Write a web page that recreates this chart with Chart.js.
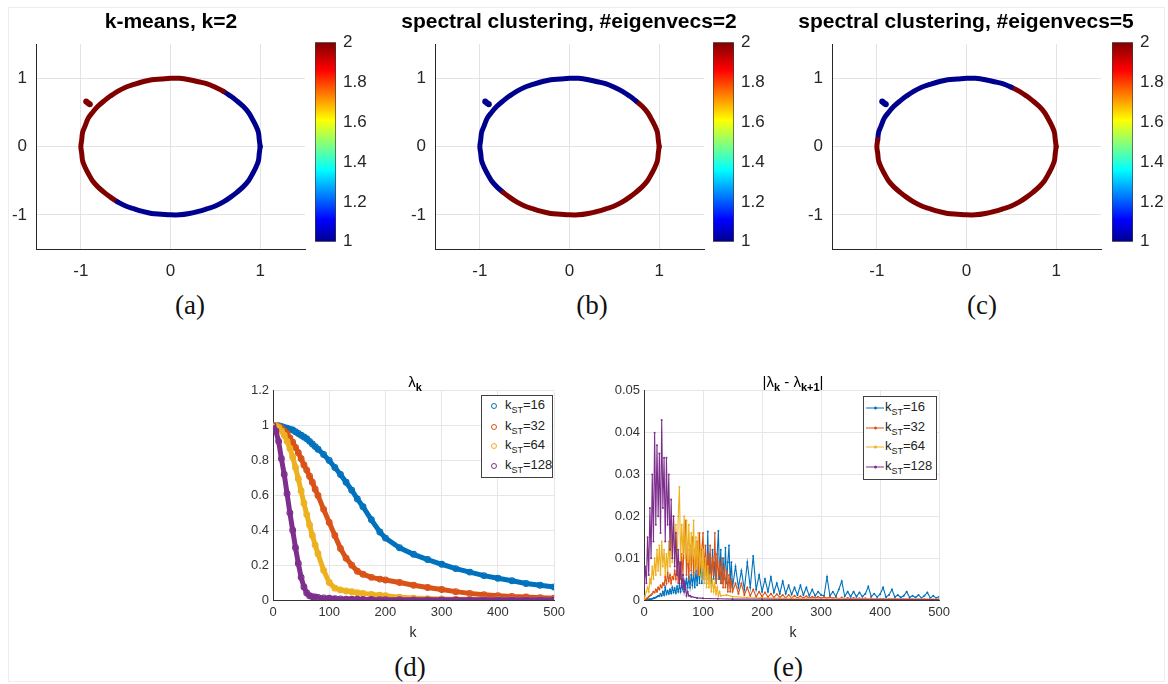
<!DOCTYPE html>
<html>
<head>
<meta charset="utf-8">
<script src="https://cdn.jsdelivr.net/npm/chart.js@4.4.1/dist/chart.umd.min.js"></script>
<style>
  body { margin: 0; background: #fff; width: 1168px; height: 684px; position: relative; overflow: hidden;
         font-family: "Liberation Sans", Arial, sans-serif; }
  canvas { position: absolute; }
  .frame { position: absolute; left: 8px; top: 7px; width: 1155px; height: 673px; border: 1px solid #f2ebec; }
  .c { position: absolute; transform: translate(-50%, -50%); white-space: nowrap; }
  .ttl { font-weight: bold; font-size: 21px; color: #000; }
  .sub-ttl { font-size: 15px; color: #000; }
  .sub-ttl sub { font-size: 11px; font-weight: bold; }
  .xl { font-size: 14px; color: #262626; }
  .pl { font-family: "Liberation Serif", "Times New Roman", serif; font-size: 27px; color: #111; }
  .leg { position: absolute; background: #fff; border: 1px solid #404040; box-sizing: border-box; }
  .row { position: absolute; font-size: 13px; color: #222; white-space: nowrap; transform: translateY(-50%); }
  .row sub { font-size: 9px; }
  .mk { position: absolute; transform: translate(-50%, -50%); }
</style>
</head>
<body>
<div class="frame"></div>

<canvas id="ringA" width="319" height="264" style="left:-4px;top:25px"></canvas>
<canvas id="barA" width="61" height="234" style="left:315px;top:25px"></canvas>
<canvas id="ringB" width="319" height="264" style="left:395px;top:25px"></canvas>
<canvas id="barB" width="61" height="234" style="left:713px;top:25px"></canvas>
<canvas id="ringC" width="319" height="264" style="left:792px;top:25px"></canvas>
<canvas id="barC" width="56" height="234" style="left:1112px;top:25px"></canvas>
<canvas id="lamChart" width="337" height="251" style="left:233px;top:379px"></canvas>
<canvas id="gapChart" width="355" height="251" style="left:600px;top:379px"></canvas>

<div class="c ttl" style="left:171px;top:21px">k-means, k=2</div>
<div class="c ttl" style="left:569px;top:21px">spectral clustering, #eigenvecs=2</div>
<div class="c ttl" style="left:966px;top:21px">spectral clustering, #eigenvecs=5</div>
<div class="c sub-ttl" style="left:415px;top:383px">λ<sub>k</sub></div>
<div class="c sub-ttl" style="left:793px;top:383px">|λ<sub>k</sub> - λ<sub>k+1</sub>|</div>
<div class="c xl" style="left:413px;top:632px">k</div>
<div class="c xl" style="left:793px;top:632px">k</div>
<div class="c pl" style="left:190px;top:305px">(a)</div>
<div class="c pl" style="left:592px;top:305px">(b)</div>
<div class="c pl" style="left:982px;top:305px">(c)</div>
<div class="c pl" style="left:410px;top:667px">(d)</div>
<div class="c pl" style="left:788px;top:667px">(e)</div>

<script>
const SANS = '"Liberation Sans", Arial, sans-serif';
Chart.defaults.font.family = SANS;

// ring of points, one every 6 degrees, closed back on the first point
const ringX = [1.00, 0.99, 0.98, 0.95, 0.91, 0.87, 0.81, 0.74, 0.67, 0.59,
  0.50, 0.41, 0.31, 0.21, 0.10, 0.00, -0.10, -0.21, -0.31, -0.41,
  -0.50, -0.59, -0.67, -0.74, -0.81, -0.87, -0.92, -0.95, -0.98, -0.99,
  -1.00, -0.99, -0.98, -0.95, -0.91, -0.87, -0.81, -0.74, -0.67, -0.59,
  -0.50, -0.41, -0.31, -0.21, -0.10, 0.00, 0.10, 0.21, 0.31, 0.41,
  0.50, 0.59, 0.67, 0.74, 0.81, 0.87, 0.91, 0.95, 0.98, 0.99, 1.00];
const ringY = [0.00, 0.10, 0.21, 0.31, 0.41, 0.50, 0.59, 0.67, 0.74, 0.81,
  0.87, 0.92, 0.95, 0.98, 1.00, 1.00, 0.99, 0.98, 0.95, 0.91,
  0.87, 0.81, 0.74, 0.67, 0.59, 0.50, 0.41, 0.31, 0.21, 0.10,
  0.00, -0.10, -0.21, -0.31, -0.41, -0.50, -0.59, -0.67, -0.74, -0.81,
  -0.87, -0.91, -0.95, -0.98, -0.99, -1.00, -1.00, -0.98, -0.95, -0.91,
  -0.87, -0.81, -0.74, -0.67, -0.59, -0.50, -0.41, -0.31, -0.21, -0.10, 0.00];

// cluster label of every ring point
const clusterA = [1, 1, 1, 1, 1, 1, 1, 1, 1, 2,
  2, 2, 2, 2, 2, 2, 2, 2, 2, 2,
  2, 2, 2, 2, 2, 2, 2, 2, 2, 2,
  2, 2, 2, 2, 2, 2, 2, 2, 2, 1,
  1, 1, 1, 1, 1, 1, 1, 1, 1, 1,
  1, 1, 1, 1, 1, 1, 1, 1, 1, 1, 1];
const clusterB = [2, 2, 2, 2, 2, 2, 2, 1, 1, 1,
  1, 1, 1, 1, 1, 1, 1, 1, 1, 1,
  1, 1, 1, 1, 1, 1, 1, 1, 1, 1,
  1, 1, 1, 1, 1, 1, 1, 2, 2, 2,
  2, 2, 2, 2, 2, 2, 2, 2, 2, 2,
  2, 2, 2, 2, 2, 2, 2, 2, 2, 2, 2];
const clusterC = [2, 2, 2, 2, 2, 2, 2, 2, 2, 2,
  1, 1, 1, 1, 1, 1, 1, 1, 1, 1,
  1, 1, 1, 1, 1, 1, 1, 1, 1, 2,
  2, 2, 2, 2, 2, 2, 2, 2, 2, 2,
  2, 2, 2, 2, 2, 2, 2, 2, 2, 2,
  2, 2, 2, 2, 2, 2, 2, 2, 2, 2, 2];

// small stray group of points just outside the ring
const blobX = [-0.94, -0.92, -0.90];
const blobY = [0.66, 0.64, 0.62];
const blobCluster = { A: 2, B: 1, C: 1 };

const ringTicks = [-1, 0, 1];
const cbMin = 1, cbMax = 2, cbStep = 0.2;

// eigenvalue decay, sampled on kLam
const kLam = [0, 5, 10, 15, 20, 25, 30, 35, 40, 45, 50, 55, 60, 65, 70, 75, 80,
  90, 100, 110, 120, 130, 140, 150, 160, 175, 190, 200,
  225, 250, 275, 300, 325, 350, 375, 400, 425, 450, 475, 500];
const lam16 = [1, 1, 1, 0.995, 0.99, 0.985, 0.98, 0.975, 0.965, 0.955, 0.945, 0.935, 0.925, 0.91, 0.895, 0.88, 0.865,
  0.835, 0.8, 0.76, 0.72, 0.675, 0.63, 0.58, 0.535, 0.46, 0.39, 0.355,
  0.3, 0.262, 0.232, 0.205, 0.18, 0.16, 0.14, 0.125, 0.11, 0.095, 0.085, 0.075];
const lam32 = [1, 1, 0.995, 0.985, 0.97, 0.955, 0.93, 0.905, 0.875, 0.845, 0.81, 0.775, 0.745, 0.71, 0.675, 0.635, 0.6,
  0.52, 0.445, 0.37, 0.295, 0.24, 0.2, 0.165, 0.148, 0.13, 0.12, 0.115,
  0.1, 0.085, 0.072, 0.06, 0.048, 0.038, 0.03, 0.025, 0.02, 0.017, 0.013, 0.01];
const lam64 = [1, 1, 0.99, 0.97, 0.945, 0.91, 0.87, 0.82, 0.76, 0.695, 0.625, 0.555, 0.49, 0.43, 0.37, 0.315, 0.265,
  0.17, 0.1, 0.068, 0.058, 0.052, 0.047, 0.042, 0.038, 0.032, 0.027, 0.024,
  0.016, 0.011, 0.008, 0.006, 0.005, 0.004, 0.003, 0.003, 0.002, 0.002, 0.002, 0.001];
const lam128 = [1, 0.97, 0.91, 0.81, 0.72, 0.61, 0.5, 0.4, 0.3, 0.21, 0.13, 0.075, 0.04, 0.024, 0.019, 0.017, 0.015,
  0.012, 0.01, 0.008, 0.006, 0.005, 0.004, 0.004, 0.003, 0.003, 0.002, 0.002,
  0.002, 0.001, 0.001, 0.001, 0.001, 0.001, 0.001, 0.001, 0.001, 0.001, 0.001, 0.001];

// gaps between consecutive eigenvalues
function span(from, to, by) {
  const out = [];
  for (let k = from; k <= to; k += by) out.push(k);
  return out;
}
const gapK16 = span(0, 150, 2).concat(span(155, 500, 5));
const gapK32 = gapK16;
const gapK64 = span(0, 130, 2).concat([140, 150, 175, 200, 250, 300, 400, 500]);
const gapK128 = span(0, 80, 2).concat([90, 100, 125, 150, 200, 250, 300, 350, 400, 450, 500]);

const gap16 = [0, 0, 0, 0.0001, 0.0001, 0.0002, 0.0002, 0.0003, 0.0004, 0.0005,
  0.0006, 0.0008, 0.001, 0.0009, 0.0015, 0.001, 0.002, 0.0012, 0.003, 0.0014,
  0.0022, 0.0015, 0.0025, 0.0016, 0.003, 0.0018, 0.0028, 0.0017, 0.0032, 0.002,
  0.0035, 0.002, 0.004, 0.0025, 0.0045, 0.0025, 0.005, 0.003, 0.0055, 0.003,
  0.006, 0.0035, 0.0065, 0.003, 0.007, 0.0035, 0.008, 0.004, 0.009, 0.004,
  0.0085, 0.005, 0.01, 0.004, 0.0164, 0.005, 0.011, 0.004, 0.012, 0.005,
  0.009, 0.004, 0.011, 0.0165, 0.005, 0.012, 0.004, 0.01, 0.005, 0.0125,
  0.004, 0.009, 0.013, 0.004, 0.009, 0.003,
  0.008, 0.003, 0.007, 0.0025, 0.009, 0.003, 0.0105, 0.0025, 0.006, 0.002,
  0.005, 0.002, 0.0055, 0.0018, 0.004, 0.0015, 0.0045, 0.0015, 0.0035, 0.0013,
  0.003, 0.0012, 0.0035, 0.0012, 0.003, 0.001, 0.0025, 0.001, 0.002, 0.0012,
  0.001, 0.0055, 0.001, 0.002, 0.0009, 0.0025, 0.0045, 0.0009, 0.002, 0.0008,
  0.002, 0.0008, 0.0018, 0.0008, 0.0015, 0.0032, 0.0008, 0.0015, 0.0007, 0.0014,
  0.003, 0.0007, 0.0012, 0.0025, 0.0007, 0.0012, 0.0006, 0.001, 0.002, 0.0006,
  0.001, 0.0006, 0.0012, 0.0005, 0.001, 0.0018, 0.0005, 0.001, 0.0005, 0.0008];
const gap32 = [0, 0, 0.0003, 0.0005, 0.0008, 0.001, 0.0012, 0.0015, 0.002, 0.0018,
  0.0025, 0.002, 0.003, 0.0025, 0.0035, 0.003, 0.004, 0.0035, 0.0055, 0.004,
  0.0065, 0.0045, 0.006, 0.004, 0.0055, 0.005, 0.007, 0.005, 0.008, 0.004,
  0.009, 0.005, 0.011, 0.006, 0.014, 0.019, 0.006, 0.012, 0.005, 0.013,
  0.007, 0.015, 0.006, 0.012, 0.007, 0.014, 0.006, 0.016, 0.008, 0.012,
  0.016, 0.006, 0.013, 0.005, 0.011, 0.006, 0.013, 0.005, 0.01, 0.006,
  0.016, 0.004, 0.011, 0.005, 0.009, 0.004, 0.01, 0.003, 0.008, 0.003,
  0.007, 0.002, 0.006, 0.002, 0.005, 0.002,
  0.004, 0.0015, 0.004, 0.0012, 0.003, 0.001, 0.0025, 0.0008, 0.002, 0.0008,
  0.0018, 0.0007, 0.0015, 0.0006, 0.0014, 0.0006, 0.0012, 0.0005, 0.0012, 0.0005,
  0.001, 0.0005, 0.0009, 0.0005, 0.0009, 0.0004, 0.0008, 0.0004, 0.0008, 0.0004,
  0.0007, 0.0004, 0.0007, 0.0004, 0.0006, 0.0003, 0.0006, 0.0003, 0.0005, 0.0003,
  0.0005, 0.0003, 0.0004, 0.0003, 0.0004, 0.0002, 0.0004, 0.0002, 0.0003, 0.0002,
  0.0003, 0.0002, 0.0003, 0.0002, 0.0003, 0.0002, 0.0003, 0.0002, 0.0002, 0.0002,
  0.0002, 0.0001, 0.0002, 0.0001, 0.0002, 0.0001, 0.0002, 0.0001, 0.0001, 0.0001];
const gap64 = [0, 0.001, 0.002, 0.003, 0.002, 0.005, 0.004, 0.008, 0.005, 0.01,
  0.006, 0.012, 0.007, 0.013, 0.006, 0.014, 0.008, 0.012, 0.006, 0.011,
  0.007, 0.014, 0.008, 0.017, 0.009, 0.02, 0.01, 0.018, 0.008, 0.02,
  0.027, 0.009, 0.018, 0.011, 0.02, 0.01, 0.019, 0.009, 0.018, 0.008,
  0.016, 0.009, 0.019, 0.007, 0.015, 0.008, 0.016, 0.006, 0.013, 0.005,
  0.012, 0.004, 0.01, 0.003, 0.008, 0.003, 0.006, 0.002, 0.005, 0.002,
  0.004, 0.0015, 0.003, 0.001, 0.002, 0.001,
  0.0012, 0.0008, 0.0006, 0.0005, 0.0004, 0.0003, 0.0002, 0.0002];
const gap128 = [0.003, 0.008, 0.004, 0.015, 0.006, 0.022, 0.01, 0.03, 0.014, 0.04,
  0.018, 0.037, 0.02, 0.035, 0.016, 0.043, 0.022, 0.034, 0.014, 0.034,
  0.018, 0.03, 0.012, 0.024, 0.01, 0.02, 0.008, 0.016, 0.006, 0.012,
  0.004, 0.009, 0.003, 0.006, 0.002, 0.004, 0.001, 0.002, 0.001, 0.001,
  0.0008,
  0.0005, 0.0004, 0.0003, 0.0002, 0.0002, 0.0001, 0.0001, 0.0001, 0.0001, 0.0001, 0.0001];

const kstLabels = ['16', '32', '64', '128'];
const kstColors = ['#0072BD', '#D95319', '#EDB120', '#7E2F8E'];
const clusterColor = { 1: 'rgb(0,0,143)', 2: 'rgb(128,0,0)' };
const jetStops = [[0, 'rgb(0,0,143)'], [0.11, 'rgb(0,0,255)'], [0.36, 'rgb(0,255,255)'],
  [0.61, 'rgb(255,255,0)'], [0.86, 'rgb(255,0,0)'], [1, 'rgb(128,0,0)']];

const noInteract = { responsive: false, animation: false, events: [],
  plugins: { legend: { display: false }, tooltip: { enabled: false } } };

// plain number labels: 1 instead of 1.0, 0.2 instead of 0.20
const plainNum = v => String(+v.toFixed(4));

function ringAxis(pos) {
  return {
    type: 'linear', position: pos, min: -1.5, max: 1.5,
    afterBuildTicks: s => { s.ticks = ringTicks.map(v => ({ value: v })); },
    afterFit: s => { if (pos === 'left') s.width = 40; else s.height = 40; },
    grid: { color: '#e3e3e3', drawTicks: false },
    border: { color: '#262626', width: 1 },
    ticks: { color: '#262626', font: { size: 17 }, padding: pos === 'left' ? 9 : 12, callback: plainNum }
  };
}

function ringChart(id, clusters, blobCl) {
  const pts = ringX.map((x, i) => ({ x, y: ringY[i] }));
  const blob = blobX.map((x, i) => ({ x, y: blobY[i] }));
  new Chart(document.getElementById(id), {
    type: 'scatter',
    data: {
      datasets: [
        { data: blob, pointRadius: 3, pointBorderWidth: 0, backgroundColor: clusterColor[blobCl] },
        { data: pts, showLine: true, pointRadius: 0, borderWidth: 5, tension: 0.35,
          borderCapStyle: 'round', borderJoinStyle: 'round',
          borderColor: clusterColor[1],
          segment: { borderColor: c => clusterColor[clusters[c.p0DataIndex]] } }
      ]
    },
    options: Object.assign({}, noInteract, {
      layout: { padding: { top: 10, right: 10 } },
      scales: { x: ringAxis('bottom'), y: ringAxis('left') }
    })
  });
}

function jetFill(c) {
  const area = c.chart.chartArea;
  if (!area) return jetStops[0][1];
  const g = c.chart.ctx.createLinearGradient(0, area.bottom, 0, area.top);
  jetStops.forEach(([p, col]) => g.addColorStop(p, col));
  return g;
}

function colorbar(id) {
  const el = document.getElementById(id);
  new Chart(el, {
    type: 'bar',
    data: { labels: [''], datasets: [{ data: [[cbMin, cbMax]], backgroundColor: jetFill,
      borderColor: '#3a3a3a', borderWidth: 1, borderSkipped: false,
      barPercentage: 1, categoryPercentage: 1 }] },
    options: Object.assign({}, noInteract, {
      layout: { padding: { top: 10, bottom: 10 } },
      scales: {
        x: { display: false },
        y: { position: 'right', min: cbMin, max: cbMax,
          ticks: { stepSize: cbStep, color: '#262626', font: { size: 17 }, padding: 7, callback: plainNum },
          grid: { display: false, drawTicks: false }, border: { display: false },
          afterFit: s => { s.width = el.width - 21; } }
      }
    })
  });
}

ringChart('ringA', clusterA, blobCluster.A);
ringChart('ringB', clusterB, blobCluster.B);
ringChart('ringC', clusterC, blobCluster.C);
colorbar('barA');
colorbar('barB');
colorbar('barC');

function kAxis() {
  return {
    type: 'linear', min: 0, max: 500,
    ticks: { stepSize: 100, color: '#333', font: { size: 13 }, padding: 5 },
    grid: { color: '#e6e6e6', drawTicks: false },
    border: { color: '#333', width: 1 },
    afterFit: s => { s.height = 30; }
  };
}
function valueAxis(max, step, width) {
  return {
    type: 'linear', min: 0, max: max,
    ticks: { stepSize: step, color: '#333', font: { size: 13 }, padding: 4, callback: plainNum },
    grid: { color: '#e6e6e6', drawTicks: false },
    border: { color: '#333', width: 1 },
    afterFit: s => { s.width = width; }
  };
}

const lamSeries = [lam16, lam32, lam64, lam128];
new Chart(document.getElementById('lamChart'), {
  type: 'scatter',
  data: {
    datasets: lamSeries.map((vals, i) => ({
      data: kLam.map((k, j) => ({ x: k, y: vals[j] })),
      showLine: true, borderColor: kstColors[i], borderWidth: 5,
      pointRadius: 2.9, pointBackgroundColor: 'rgba(255,255,255,0)',
      pointBorderColor: kstColors[i], pointBorderWidth: 1.1,
      order: 3 - i
    }))
  },
  options: Object.assign({}, noInteract, {
    layout: { padding: { top: 10, right: 12 } },
    scales: { x: kAxis(), y: valueAxis(1.2, 0.2, 40) }
  })
});

const gapSeries = [[gapK16, gap16], [gapK32, gap32], [gapK64, gap64], [gapK128, gap128]];
new Chart(document.getElementById('gapChart'), {
  type: 'scatter',
  data: {
    datasets: gapSeries.map(([ks, vals], i) => ({
      data: ks.map((k, j) => ({ x: k, y: vals[j] })),
      showLine: true, borderColor: kstColors[i], borderWidth: 1.1,
      pointRadius: 1, pointBorderWidth: 0, pointBackgroundColor: kstColors[i],
      order: 3 - i
    }))
  },
  options: Object.assign({}, noInteract, {
    layout: { padding: { top: 10, right: 12 } },
    scales: { x: kAxis(), y: valueAxis(0.05, 0.01, 44) }
  })
});

// legends with subscripted labels
function legend(left, top, w, h, rowY, markerX, textX, kind) {
  const box = document.createElement('div');
  box.className = 'leg';
  Object.assign(box.style, { left: left + 'px', top: top + 'px', width: w + 'px', height: h + 'px' });
  kstLabels.forEach((lbl, i) => {
    const mk = document.createElement('div');
    mk.className = 'mk';
    if (kind === 'circle') {
      Object.assign(mk.style, { left: markerX + 'px', top: rowY[i] + 'px', width: '4px', height: '4px',
        border: '1px solid ' + kstColors[i], borderRadius: '50%' });
    } else {
      Object.assign(mk.style, { left: markerX + 'px', top: rowY[i] + 'px', width: '18px', height: '1px',
        background: kstColors[i] });
      const dot = document.createElement('div');
      Object.assign(dot.style, { position: 'absolute', left: '8px', top: '-1px', width: '3px', height: '3px',
        borderRadius: '50%', background: kstColors[i] });
      mk.appendChild(dot);
    }
    box.appendChild(mk);
    const row = document.createElement('div');
    row.className = 'row';
    row.style.left = textX + 'px';
    row.style.top = rowY[i] + 'px';
    row.innerHTML = 'k<sub>ST</sub>=' + lbl;
    box.appendChild(row);
  });
  document.body.appendChild(box);
}
legend(481, 395, 72, 83, [10, 31, 50, 70], 12, 23, 'circle');
legend(863, 396, 74, 84, [11, 31, 50, 70], 11, 21, 'line');
</script>
</body>
</html>
